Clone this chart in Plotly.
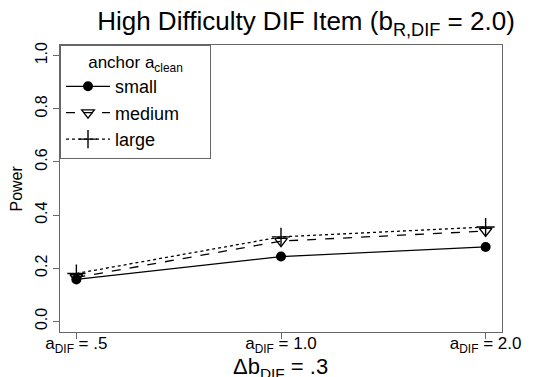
import plotly.graph_objects as go

categories = [1, 2, 3]
tick_labels = ["a<sub>DIF</sub> = .5", "a<sub>DIF</sub> = 1.0", "a<sub>DIF</sub> = 2.0"]
small = [0.158, 0.244, 0.280]
medium = [0.165, 0.302, 0.340]
large = [0.180, 0.318, 0.355]
y_ticks = [0.0, 0.2, 0.4, 0.6, 0.8, 1.0]
series_names = ["small", "medium", "large"]

FONT = "Liberation Sans, Arial, sans-serif"
AX = "#666666"

# page body has an 8px margin; figure is sized to fill the rest of the window
W, H = 528, 369
L, R, T, B = 52, 34, 37, 45
PW, PH = W - L - R, H - T - B

fig = go.Figure()
fig.add_trace(go.Scatter(x=categories, y=small, name=series_names[0], mode="lines+markers",
                         line=dict(color="black", width=1.3, dash="solid"),
                         marker=dict(symbol="circle", size=10, color="black")))
fig.add_trace(go.Scatter(x=categories, y=medium, name=series_names[1] + "&nbsp;" * 5, mode="lines+markers",
                         line=dict(color="black", width=1.3, dash="dash"),
                         marker=dict(symbol="triangle-down-open", size=11, color="black",
                                     line=dict(width=1.3))))
fig.add_trace(go.Scatter(x=categories, y=large, name=series_names[2], mode="lines+markers",
                         line=dict(color="black", width=1.3, dash="dot"),
                         marker=dict(symbol="cross-thin-open", size=13, color="black",
                                     line=dict(width=1.4, color="black"))))

fig.update_layout(
    width=W, height=H,
    margin=dict(l=L, r=R, t=T, b=B, autoexpand=False),
    paper_bgcolor="white", plot_bgcolor="white",
    font=dict(family=FONT, color="black", size=16),
    title=dict(text="High Difficulty DIF Item (b<sub>R,DIF</sub> = 2.0)",
               x=298 / W, xanchor="center", xref="container",
               y=1 - 13 / H, yanchor="middle",
               font=dict(size=26, family=FONT)),
    legend=dict(x=0, y=1, xanchor="left", yanchor="top",
                bordercolor=AX, borderwidth=1, bgcolor="white",
                title=dict(text="anchor a<sub>clean</sub>", font=dict(size=17, family=FONT), side="top center"),
                font=dict(size=18, family=FONT), itemwidth=44, tracegroupgap=0),
    xaxis=dict(range=[0.92, 3.08], tickvals=categories, ticktext=tick_labels,
               showline=True, linecolor=AX, linewidth=1, mirror=True,
               ticks="outside", ticklen=6, tickcolor=AX, showgrid=False, zeroline=False,
               tickfont=dict(size=17), ticklabelstandoff=-10),
    yaxis=dict(range=[-0.04, 1.04], tickvals=y_ticks, ticktext=[f"{v:.1f}" for v in y_ticks],
               tickangle=-90, showline=True, linecolor=AX, linewidth=1, mirror=True,
               ticks="outside", ticklen=6, tickcolor=AX, showgrid=False, zeroline=False,
               tickfont=dict(size=16)),
    annotations=[
        dict(text="Δb<sub>DIF</sub> = .3", xref="paper", yref="paper",
             x=(272 - L) / PW, y=-36 / PH, xanchor="center", yanchor="middle",
             showarrow=False, font=dict(size=22, family=FONT)),
        dict(text="Power", xref="paper", yref="paper", textangle=-90,
             x=(8 - L) / PW, y=0.5, xanchor="center", yanchor="middle",
             showarrow=False, font=dict(size=16, family=FONT)),
    ],
    showlegend=True,
)

fig.write_html("out.html")
